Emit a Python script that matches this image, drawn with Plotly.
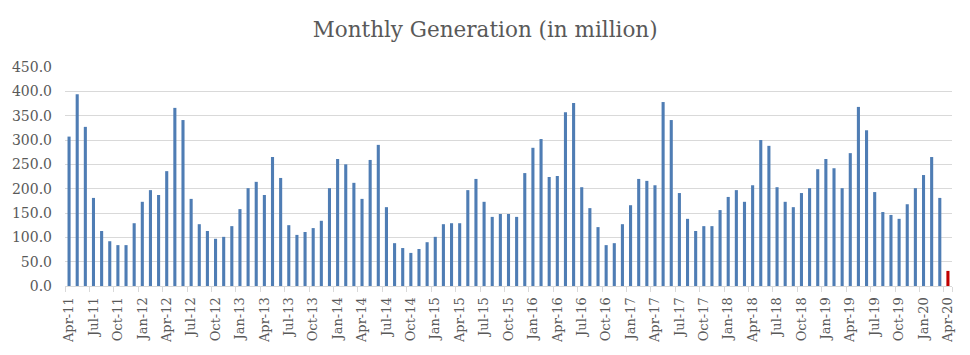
import plotly.graph_objects as go

month_names = ["Jan", "Feb", "Mar", "Apr", "May", "Jun", "Jul", "Aug", "Sep", "Oct", "Nov", "Dec"]
start_year, start_month = 2011, 4  # Apr-11
n_months = 109
categories = []
for k in range(n_months):
    m = (start_month - 1 + k) % 12
    y = start_year + (start_month - 1 + k) // 12
    categories.append(f"{month_names[m]}-{y % 100:02d}")

values = [
    307, 394, 327, 181, 113, 92, 84, 84, 129, 173, 197, 187,
    236, 366, 341, 179, 127, 113, 97, 101, 123, 158, 201, 214,
    187, 265, 222, 125, 105, 111, 119, 134, 201, 261, 250, 212,
    179, 259, 290, 162, 88, 78, 68, 76, 90, 101, 127, 129,
    129, 197, 220, 173, 142, 148, 148, 142, 232, 284, 302, 224,
    226, 357, 376, 203, 160, 121, 84, 88, 127, 166, 220, 216,
    207, 378, 341, 191, 138, 113, 123, 123, 156, 183, 197, 173,
    207, 300, 288, 203, 173, 162, 191, 201, 240, 261, 242, 201,
    273, 368, 320, 193, 152, 146, 138, 168, 201, 228, 265, 181,
    31,
]

tick_labels = categories[::3]

blue = "#4f7db4"
red = "#c00000"
colors = [blue] * (n_months - 1) + [red]

fig = go.Figure(
    go.Bar(
        x=categories,
        y=values,
        marker=dict(color=colors, line=dict(width=0)),
        hoverinfo="x+y",
    )
)

font_family = "DejaVu Serif"
fig.update_layout(
    width=962,
    height=347,
    margin=dict(l=57, r=18, t=59, b=69, autoexpand=False),
    paper_bgcolor="white",
    plot_bgcolor="white",
    bargap=0.62,
    showlegend=False,
    title=dict(
        text="Monthly Generation (in million)",
        x=0.496,
        xanchor="center",
        y=0.937,
        yanchor="middle",
        font=dict(family=font_family, size=21.5, color="#595959"),
    ),
)

fig.update_xaxes(
    type="category",
    tickmode="array",
    tickvals=tick_labels,
    ticktext=tick_labels,
    tickangle=-90,
    tickson="boundaries",
    ticks="outside",
    ticklen=5,
    tickcolor="#d9d9d9",
    showline=True,
    linecolor="#d9d9d9",
    linewidth=1,
    showgrid=False,
    automargin=False,
    ticklabelstandoff=5,
    tickfont=dict(family=font_family, size=13, color="#595959"),
    range=[-0.5, n_months - 0.5],
)

fig.update_yaxes(
    range=[0, 450],
    dtick=50,
    tickformat=".1f",
    showgrid=True,
    gridcolor="#d9d9d9",
    gridwidth=1,
    zeroline=False,
    showline=False,
    ticks="",
    automargin=False,
    ticklabelstandoff=12,
    tickfont=dict(family=font_family, size=14, color="#595959"),
)

fig.write_html("out.html")
